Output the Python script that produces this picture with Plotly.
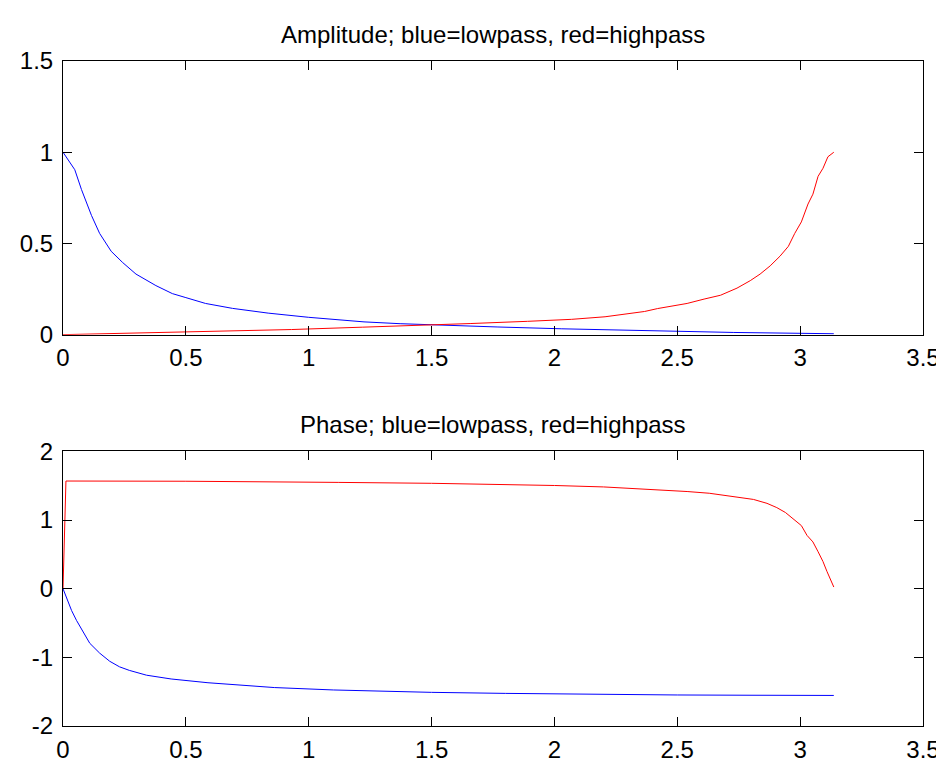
import plotly.graph_objects as go

# amplitude response
amp_low_x = [0, 0.048, 0.075, 0.116, 0.149, 0.196, 0.243, 0.297, 0.378, 0.445, 0.5, 0.58,
             0.69, 0.835, 1.0, 1.225, 1.372, 1.554, 1.77, 2.03, 2.36, 2.73, 3.137]
amp_low_y = [1.0, 0.904, 0.796, 0.653, 0.555, 0.457, 0.395, 0.332, 0.269, 0.225, 0.203, 0.171,
             0.144, 0.118, 0.095, 0.07, 0.06, 0.05, 0.042, 0.032, 0.022, 0.012, 0.005]

amp_high_x = [0, 0.2, 0.58, 0.93, 1.22, 1.45, 1.66, 1.89, 2.07, 2.206, 2.30, 2.367, 2.42, 2.474,
              2.54, 2.609, 2.676, 2.743, 2.797, 2.837, 2.878, 2.918, 2.952, 2.978, 3.005, 3.032,
              3.052, 3.073, 3.093, 3.113, 3.137]
amp_high_y = [0.0, 0.006, 0.016, 0.028, 0.041, 0.05, 0.061, 0.073, 0.084, 0.098, 0.115, 0.127,
              0.143, 0.157, 0.171, 0.195, 0.216, 0.255, 0.296, 0.332, 0.377, 0.43, 0.484, 0.555,
              0.618, 0.716, 0.77, 0.868, 0.912, 0.975, 1.0]

# phase response
ph_low_x = [0, 0.035, 0.055, 0.082, 0.109, 0.149, 0.19, 0.23, 0.27, 0.34, 0.44, 0.59, 0.71,
            0.86, 1.1, 1.3, 1.5, 1.8, 2.17, 2.5, 2.8, 3.137]
ph_low_y = [0, -0.319, -0.462, -0.629, -0.795, -0.938, -1.057, -1.138, -1.19, -1.26, -1.315,
            -1.37, -1.405, -1.44, -1.475, -1.495, -1.51, -1.525, -1.543, -1.548, -1.552, -1.555]

ph_high_x = [0, 0.012, 0.5, 0.97, 1.12, 1.5, 1.8, 2.0, 2.2, 2.3, 2.43, 2.54, 2.63, 2.74, 2.81,
             2.865, 2.905, 2.94, 2.972, 3.005, 3.028, 3.052, 3.073, 3.093, 3.109, 3.122, 3.137]
ph_high_y = [0, 1.568, 1.565, 1.558, 1.548, 1.535, 1.518, 1.503, 1.482, 1.465, 1.438, 1.415,
             1.39, 1.34, 1.30, 1.243, 1.181, 1.11, 1.014, 0.919, 0.776, 0.681, 0.538, 0.395,
             0.252, 0.133, 0.024]

x_ticks = [0, 0.5, 1, 1.5, 2, 2.5, 3, 3.5]
x_ticktext = ["0", "0.5", "1", "1.5", "2", "2.5", "3", "3.5"]
amp_ticks = [0, 0.5, 1, 1.5]
amp_ticktext = ["0", "0.5", "1", "1.5"]
ph_ticks = [-2, -1, 0, 1, 2]
ph_ticktext = ["-2", "-1", "0", "1", "2"]

titles = ["Amplitude; blue=lowpass, red=highpass", "Phase; blue=lowpass, red=highpass"]

W, H = 944, 767
ml, mr, mt, mb = 53, 23, 53, 36
ph = H - mt - mb
top_dom = [(731 - 332) / ph, 1.0]
bot_dom = [0.0, (731 - 451) / ph]

fig = go.Figure()
line = {'width': 1}
fig.add_trace(go.Scatter(x=amp_low_x, y=amp_low_y, mode='lines', line=dict(line, color='#0000ff'),
                         xaxis='x', yaxis='y'))
fig.add_trace(go.Scatter(x=amp_high_x, y=amp_high_y, mode='lines', line=dict(line, color='#ff0000'),
                         xaxis='x', yaxis='y'))
fig.add_trace(go.Scatter(x=ph_low_x, y=ph_low_y, mode='lines', line=dict(line, color='#0000ff'),
                         xaxis='x2', yaxis='y2'))
fig.add_trace(go.Scatter(x=ph_high_x, y=ph_high_y, mode='lines', line=dict(line, color='#ff0000'),
                         xaxis='x2', yaxis='y2'))

ax_common = dict(showline=True, linecolor='black', linewidth=1, mirror='allticks',
                 ticks='inside', ticklen=9, tickcolor='black', tickwidth=1,
                 showgrid=False, zeroline=False, tickmode='array')

fig.update_layout(
    width=W, height=H,
    margin={'l': ml, 'r': mr, 't': mt, 'b': mb, 'pad': 0},
    paper_bgcolor='white', plot_bgcolor='white',
    showlegend=False,
    font={'family': 'Liberation Sans, Arial, sans-serif', 'size': 24, 'color': 'black'},
    xaxis=dict(ax_common, domain=[0, 1], range=[0, 3.5], tickvals=x_ticks, ticktext=x_ticktext,
               anchor='y', ticklabelstandoff=2),
    yaxis=dict(ax_common, domain=top_dom, range=[0, 1.5], tickvals=amp_ticks,
               ticktext=amp_ticktext, anchor='x', ticklabelstandoff=4),
    xaxis2=dict(ax_common, domain=[0, 1], range=[0, 3.5], tickvals=x_ticks, ticktext=x_ticktext,
                anchor='y2', ticklabelstandoff=2),
    yaxis2=dict(ax_common, domain=bot_dom, range=[-2, 2], tickvals=ph_ticks,
                ticktext=ph_ticktext, anchor='x2', ticklabelstandoff=4),
)

for t, yd in zip(titles, [top_dom[1], bot_dom[1]]):
    fig.add_annotation(text=t, xref='paper', yref='paper', x=0.5, y=yd,
                       xanchor='center', yanchor='bottom', yshift=11, showarrow=False,
                       font={'size': 24})

fig.write_html("out.html")
